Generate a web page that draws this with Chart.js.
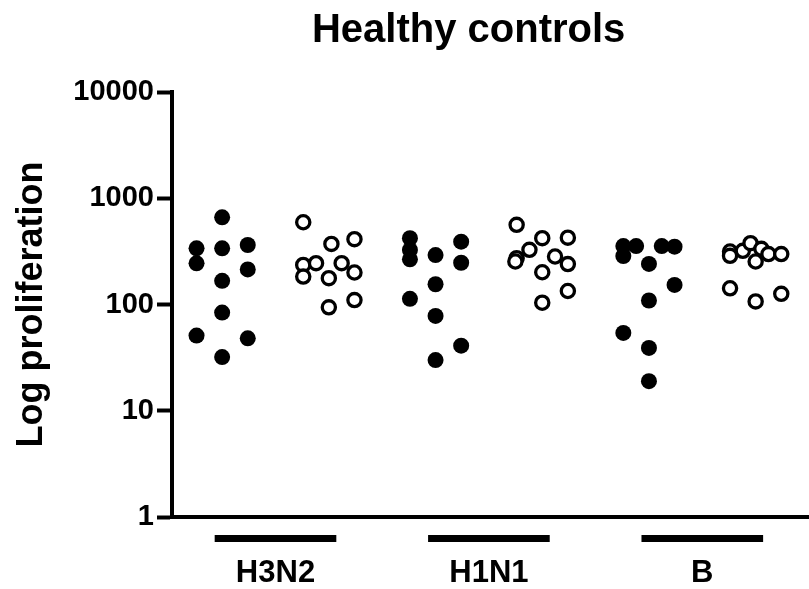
<!DOCTYPE html>
<html lang="en">
<head>
    <meta charset="UTF-8">
    <title>Healthy controls</title>
    <script src="https://cdn.jsdelivr.net/npm/chart.js"></script>
    <style>
        html, body { margin: 0; padding: 0; background: #fff; }
        #wrap { width: 809px; height: 589px; }
        canvas { display: block; }
    </style>
</head>
<body>
    <div id="wrap"><canvas id="chart" width="809" height="589"></canvas></div>

    <script>
        // Groups along the x axis
        const groupLabels = ['H3N2', 'H1N1', 'B'];
        const groupCenters = [0.5, 2.5, 4.5];
        const yTicks = [1, 10, 100, 1000, 10000];
        const chartTitle = 'Healthy controls';

        // Horizontal scatter of each dot inside its column (in steps)
        const jitterStep = 0.12;

        // Values (column 0..5)
        const h3n2Filled = [662, 338, 338, 363, 244, 214, 167, 84, 51, 48, 32];
        const h3n2FilledPos = [0, -2, 0, 2, -2, 2, 0, 0, -2, 2, 0];
        const h3n2Open = [594, 372, 412, 236, 245, 245, 183, 177, 200, 110, 94];
        const h3n2OpenPos = [-2, 0.2, 2, -2, -1, 1, -2, 0, 2, 2, 0];

        const h1n1Filled = [420, 326, 266, 292, 390, 247, 155, 113, 78, 41, 30];
        const h1n1FilledPos = [-2, -2, -2, 0, 2, 2, 0, -2, 0, 2, 0];
        const h1n1Open = [562, 421, 426, 327, 273, 254, 283, 240, 201, 134, 104];
        const h1n1OpenPos = [-2, 0, 2, -1, -2, -2.1, 1, 2, 0, 2, 0];

        const bFilled = [355, 286, 355, 355, 350, 241, 153, 109, 54, 39, 19];
        const bFilledPos = [-2, -2, -1, 1, 2, 0, 2, 0, -2, 0, 0];
        const bOpen = [315, 287, 320, 378, 334, 298, 298, 254, 142, 107, 126];
        const bOpenPos = [-2, -2, -1, -0.4, 0.45, 1, 2, 0, -2, 0, 2];

        const FONT = '"Liberation Sans", Arial, sans-serif';

        function column(values, pos, col) {
            return values.map((v, i) => ({ x: col + pos[i] * jitterStep, y: v }));
        }

        function filledSet(values, pos, col) {
            return {
                data: column(values, pos, col),
                pointRadius: 8,
                pointHoverRadius: 8,
                pointBackgroundColor: '#000',
                pointBorderColor: '#000',
                pointBorderWidth: 0,
                showLine: false,
                clip: false
            };
        }

        function openSet(values, pos, col) {
            return {
                data: column(values, pos, col),
                pointRadius: 6.6,
                pointHoverRadius: 6.6,
                pointBackgroundColor: '#fff',
                pointBorderColor: '#000',
                pointBorderWidth: 3.3,
                showLine: false,
                clip: false
            };
        }

        // Title (sits a bit left of centre in the original) and the black group bars
        const decorations = {
            id: 'decorations',
            afterDraw(chart) {
                const ctx = chart.ctx;
                const xs = chart.scales.x;
                const top = chart.chartArea.bottom + 18;
                ctx.save();
                ctx.fillStyle = '#000';
                groupCenters.forEach(c => {
                    const x1 = xs.getPixelForValue(c - 0.57);
                    const x2 = xs.getPixelForValue(c + 0.57);
                    ctx.fillRect(x1, top, x2 - x1, 7);
                });
                ctx.font = 'bold 40px ' + FONT;
                ctx.textAlign = 'center';
                ctx.textBaseline = 'alphabetic';
                ctx.fillText(chartTitle, xs.getPixelForValue(2.31), 42);
                ctx.restore();
            }
        };

        new Chart(document.getElementById('chart'), {
            type: 'scatter',
            data: {
                datasets: [
                    filledSet(h3n2Filled, h3n2FilledPos, 0),
                    openSet(h3n2Open, h3n2OpenPos, 1),
                    filledSet(h1n1Filled, h1n1FilledPos, 2),
                    openSet(h1n1Open, h1n1OpenPos, 3),
                    filledSet(bFilled, bFilledPos, 4),
                    openSet(bOpen, bOpenPos, 5)
                ]
            },
            options: {
                responsive: false,
                animation: false,
                layout: { autoPadding: false, padding: { top: 92, left: 0, right: 0, bottom: 0 } },
                plugins: {
                    legend: { display: false },
                    tooltip: { enabled: false },
                    title: { display: false }
                },
                scales: {
                    x: {
                        type: 'linear',
                        min: -0.47,
                        max: 5.5,
                        afterBuildTicks: s => { s.ticks = groupCenters.map(v => ({ value: v })); },
                        afterFit: s => { s.height = 72; },
                        grid: { display: false, drawTicks: false },
                        border: { display: true, color: '#000', width: 4 },
                        ticks: {
                            autoSkip: false,
                            maxRotation: 0,
                            padding: 38,
                            color: '#000',
                            font: { family: FONT, size: 31, weight: 'bold' },
                            callback: v => groupLabels[groupCenters.indexOf(v)]
                        }
                    },
                    y: {
                        type: 'logarithmic',
                        min: 1,
                        max: 10000,
                        afterBuildTicks: s => { s.ticks = yTicks.map(v => ({ value: v })); },
                        afterFit: s => { s.width = 172; },
                        grid: {
                            drawOnChartArea: false,
                            drawTicks: true,
                            tickLength: 15,
                            tickWidth: 4,
                            tickColor: '#000'
                        },
                        border: { display: true, color: '#000', width: 4 },
                        ticks: {
                            padding: 3,
                            color: '#000',
                            font: { family: FONT, size: 29, weight: 'bold' },
                            callback: v => String(v)
                        },
                        title: {
                            display: true,
                            text: 'Log proliferation',
                            color: '#000',
                            font: { family: FONT, size: 36, weight: 'bold' },
                            padding: { top: 10, bottom: 0 }
                        }
                    }
                }
            },
            plugins: [decorations]
        });
    </script>
</body>
</html>
